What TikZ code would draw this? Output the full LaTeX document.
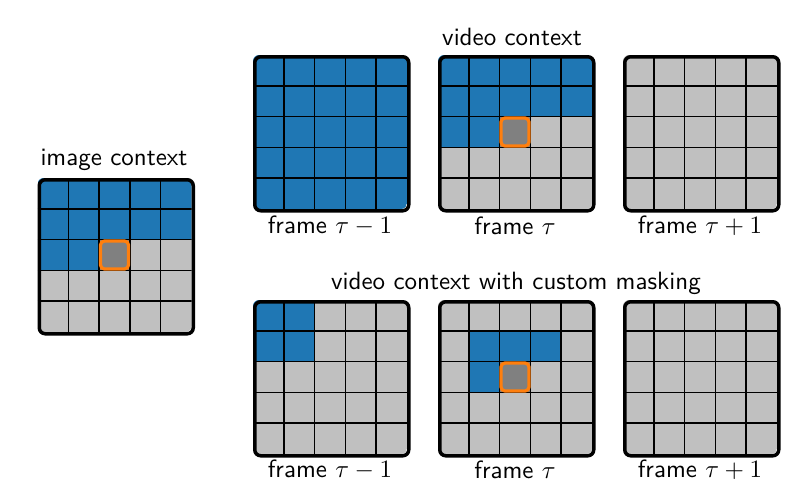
\documentclass[tikz,border=0pt]{standalone}
\usepackage{amsmath}
\definecolor{myblue}{HTML}{1F77B4}
\definecolor{mygray}{HTML}{C0C0C0}
\definecolor{mydark}{HTML}{808080}
\definecolor{myorange}{HTML}{FF7F0E}
\tikzset{
  cellb/.style={fill=myblue},
  cellg/.style={fill=mygray},
  cellt/.style={fill=mydark},
  gridline/.style={black, line width=0.6pt},
  frame box/.style={draw=black, line width=1.4pt, rounded corners=2.4pt, minimum size=61.6pt, inner sep=0pt, anchor=north west},
  target/.style={draw=myorange, fill=mydark, line width=1.3pt, rounded corners=1.6pt},
  lbl/.style={font=\sffamily, inner sep=0pt},
}
\newcommand\mygrid[4]{%
  \begin{scope}[shift={(#1,#2)}]
    \begin{scope}
      \clip[rounded corners=2.4pt] (0,0) rectangle (154,154);
      \foreach \c [count=\i from 0] in {#4} {
        \pgfmathtruncatemacro\col{mod(\i,5)}
        \pgfmathtruncatemacro\row{int(\i/5)}
        \fill[cell\c] (\col*30.8,\row*30.8) rectangle ++(30.8,30.8);
      }
      \foreach \k in {1,2,3,4} {
        \draw[gridline] (\k*30.8,0) -- (\k*30.8,154);
        \draw[gridline] (0,\k*30.8) -- (154,\k*30.8);
      }
    \end{scope}
    \node[frame box] (#3) at (0,0) {};
  \end{scope}}
\newcommand\mytarget[4]{% x y col row
  \begin{scope}[shift={(#1,#2)}]
    \draw[target] (#3*30.8+1.4,#4*30.8+1.4) rectangle ++(28,28);
  \end{scope}}
\begin{document}
\begin{tikzpicture}[x=0.4pt,y=-0.4pt]
\useasboundingbox (0,0) rectangle (800,489);
% image context
\mygrid{37.5}{178}{img}{b,b,b,b,b, b,b,b,b,b, b,b,t,g,g, g,g,g,g,g, g,g,g,g,g}
\mytarget{37.5}{178}{2}{2}
\node[lbl] (limg) at (114,160) {image context};
% top row
\mygrid{253}{55}{ta}{b,b,b,b,b, b,b,b,b,b, b,b,b,b,b, b,b,b,b,b, b,b,b,b,b}
\mygrid{438}{55}{tb}{b,b,b,b,b, b,b,b,b,b, b,b,t,g,g, g,g,g,g,g, g,g,g,g,g}
\mytarget{438}{55}{2}{2}
\mygrid{623}{55}{tc}{g,g,g,g,g, g,g,g,g,g, g,g,g,g,g, g,g,g,g,g, g,g,g,g,g}
\node[lbl] (lvid) at (512,37) {video context};
\node[lbl] (lta) at (330,226) {frame $\tau-1$};
\node[lbl] (ltb) at (515,226) {frame $\tau$};
\node[lbl] (ltc) at (700,226) {frame $\tau+1$};
% bottom row
\mygrid{253}{300}{ba}{b,b,g,g,g, b,b,g,g,g, g,g,g,g,g, g,g,g,g,g, g,g,g,g,g}
\mygrid{438}{300}{bb}{g,g,g,g,g, g,b,b,b,g, g,b,t,g,g, g,g,g,g,g, g,g,g,g,g}
\mytarget{438}{300}{2}{2}
\mygrid{623}{300}{bc}{g,g,g,g,g, g,g,g,g,g, g,g,g,g,g, g,g,g,g,g, g,g,g,g,g}
\node[lbl] (lcust) at (516,283) {video context with custom masking};
\node[lbl] (lba) at (330,470) {frame $\tau-1$};
\node[lbl] (lbb) at (515,470) {frame $\tau$};
\node[lbl] (lbc) at (700,470) {frame $\tau+1$};
\end{tikzpicture}
\end{document}
